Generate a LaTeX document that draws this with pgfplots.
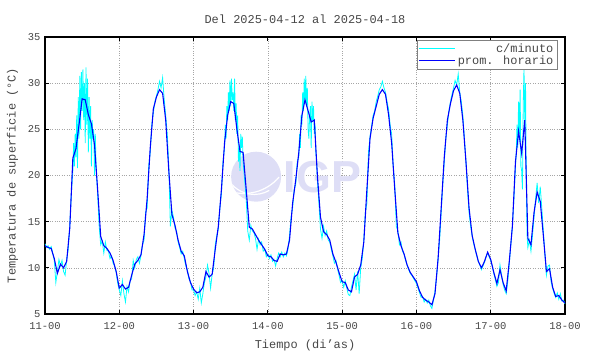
\documentclass[border=0pt]{standalone}
\usepackage{fontspec}
\setmainfont{Liberation Mono}
\newfontfamily\wmfont{Liberation Sans}
\usepackage{pgfplots}
\pgfplotsset{compat=1.18}
\usepackage{pgfplotstable}
\definecolor{cyanline}{RGB}{0,255,255}
\definecolor{blueline}{RGB}{0,0,255}
\definecolor{wm}{RGB}{222,222,246}
\definecolor{txt}{RGB}{70,70,70}

\pgfplotstableread{
h v
0 12.4
1 12.2
2 12.1
3 11.0
4 9.4
5 10.4
6 10.0
7 10.7
8 14.3
9 21.9
10 22.9
11 25.5
12 28.3
13 28.2
14 26.6
15 25.6
16 23.3
17 18.5
18 13.4
19 12.4
20 12.1
21 11.6
22 10.8
23 9.6
24 7.8
25 8.2
26 7.7
27 7.9
28 9.2
29 10.4
30 10.8
31 11.4
32 13.6
33 17.5
34 23.0
35 27.2
36 28.5
37 29.3
38 28.9
39 26.0
40 20.5
41 15.8
42 14.6
43 13.0
44 11.8
45 11.3
46 9.6
47 8.4
48 7.7
49 7.3
50 7.4
51 7.9
52 9.6
53 9.0
54 9.3
55 12.0
56 14.5
57 18.5
58 23.5
59 26.5
60 28.0
61 27.8
62 25.0
63 22.6
64 22.5
65 18.5
66 14.4
67 14.2
68 13.6
69 13.0
70 12.5
71 12.0
72 11.3
73 11.2
74 10.8
75 10.7
76 11.5
77 11.4
78 11.5
79 13.0
80 17.0
81 19.5
82 22.5
83 26.5
84 28.2
85 27.0
86 25.8
87 26.0
88 20.0
89 15.5
90 13.9
91 13.6
92 13.0
93 11.5
94 10.6
95 9.5
96 8.5
97 8.4
98 7.6
99 7.4
100 9.0
101 9.3
102 10.3
103 12.8
104 18.5
105 24.0
106 26.2
107 27.5
108 28.8
109 29.3
110 28.8
111 26.6
112 23.5
113 18.5
114 13.8
115 12.4
116 11.5
117 10.3
118 9.5
119 9.0
120 8.5
121 7.5
122 6.8
123 6.5
124 6.3
125 6.0
126 7.2
127 11.0
128 16.5
129 22.0
130 26.0
131 27.8
132 29.2
133 29.8
134 28.9
135 26.0
136 21.5
137 16.5
138 13.5
139 12.0
140 10.7
141 10.0
142 10.7
143 11.7
144 10.9
145 9.5
146 8.3
147 9.8
148 8.4
149 7.5
150 10.7
151 14.5
152 21.5
153 24.8
154 22.4
155 26.0
156 13.2
157 12.5
158 16.0
159 18.2
160 17.2
161 13.5
162 9.6
163 9.9
164 7.9
165 6.9
166 7.0
167 6.5
168 6.2
}\hourly

\pgfplotstableread{
h v
0 12.6
0.5 12.2
1 12.4
1.5 12.0
2 12.3
2.5 11.6
3 10.8
3.5 8.4
4 9.6
4.5 10.9
5 10.2
5.5 10.8
6 9.6
6.5 9.2
7 10.9
7.5 12.0
8 14.5
8.5 18.0
9.0 20.5
9.25 23.5
9.5 21.0
9.75 24.5
10.0 22.0
10.25 26.5
10.5 20.8
10.75 28.5
11.0 24.0
11.25 30.8
11.5 25.0
11.75 31.2
12.0 27.0
12.25 31.5
12.5 26.0
12.75 30.0
13.0 23.5
13.25 31.7
13.5 25.5
13.75 30.5
14.0 22.5
14.25 28.5
14.5 24.0
14.75 27.5
15.0 21.0
15.25 26.0
15.5 24.0
15.75 25.0
16.0 20.0
16.25 24.5
16.5 21.0
17 18.0
17.5 14.5
18 12.5
18.5 12.9
19 11.6
19.5 12.8
20 11.9
20.5 11.8
21 11.0
21.5 11.3
22 10.5
22.5 10.2
23 9.5
23.5 8.3
24 7.6
24.5 7.0
25 8.6
25.5 7.2
26 6.3
26.5 8.0
27 7.4
27.5 8.6
28 8.8
28.5 10.8
29 10.0
29.5 10.9
30 11.2
30.5 10.5
31 11.3
31.5 12.5
32 13.0
32.5 16.0
33 16.5
33.5 21.0
34 22.5
34.5 25.5
35 26.8
35.5 28.0
36 28.6
36.5 29.3
37 30.2
37.5 29.5
38 30.6
38.5 28.3
39 26.5
39.5 24.5
40 21.0
40.5 14.5
41 16.2
41.5 15.5
42 14.3
42.5 14.0
43 12.8
43.5 12.2
44 11.5
44.5 11.8
45 11.0
45.5 10.2
46 9.8
46.5 8.8
47 8.5
47.5 7.6
48 7.6
48.5 7.0
49 7.4
49.5 6.6
50 7.8
50.5 6.2
51 7.2
51.5 8.4
52 9.0
52.5 10.3
53 9.4
53.5 7.8
54 9.3
54.5 10.0
55 12.5
55.5 13.5
56 14.2
56.5 16.5
57 18.0
57.5 21.5
58 23.0
58.25 25.5
58.5 24.0
58.75 27.5
59 26.0
59.25 29.0
59.5 27.0
59.75 30.3
60 27.5
60.25 30.5
60.5 28.2
60.75 29.0
61 27.0
61.25 30.5
61.5 26.0
61.75 27.8
62 24.5
62.25 26.5
62.5 21.5
62.75 23.0
63 20.5
63.25 24.5
63.5 23.0
63.75 24.2
64 21.5
64.5 19.5
65 17.5
65.5 14.0
66 13.0
66.5 14.6
67 14.0
67.5 13.8
68 13.2
68.5 12.0
69 13.1
69.5 12.5
70 12.8
70.5 11.8
71 12.0
71.5 11.2
72 11.5
72.5 11.0
73 11.4
73.5 10.7
74 10.9
74.5 10.2
75 11.0
75.5 11.6
76 11.2
76.5 11.7
77 11.2
77.5 11.6
78 11.3
78.5 12.0
79 13.5
79.5 15.5
80 16.5
80.5 18.5
81 19.0
81.5 21.5
82 22.0
82.25 24.5
82.5 23.0
82.75 26.5
83 25.5
83.25 29.0
83.5 27.0
83.75 30.5
84 28.0
84.25 30.8
84.5 27.5
84.75 29.5
85 25.0
85.25 24.0
85.5 26.5
85.75 27.5
86 23.0
86.25 28.0
86.5 26.0
86.75 27.5
87 24.5
87.25 25.5
87.5 22.5
87.75 21.5
88 19.5
88.5 17.0
89 14.2
89.5 13.2
90 14.5
90.5 13.5
91 14.0
91.5 13.0
92 12.8
92.5 12.0
93 11.3
93.5 10.5
94 10.8
94.5 9.9
95 9.2
95.5 8.4
96 8.6
96.5 7.9
97 8.6
97.5 7.8
98 7.1
98.5 7.0
99 7.9
99.5 8.6
100 9.3
100.5 7.6
101 9.6
101.5 7.2
102 10.0
102.5 11.0
103 13.0
103.5 16.0
104 17.0
104.5 22.5
105 24.2
105.5 25.3
106 26.5
106.5 27.0
107 28.0
107.5 28.6
108 29.3
108.5 29.6
109 30.2
109.5 29.5
110 29.0
110.5 28.0
111 27.2
111.5 25.5
112 24.5
112.5 21.0
113 19.0
113.5 14.5
114 14.0
114.5 12.5
115 12.8
115.5 11.8
116 11.5
116.5 10.8
117 10.3
117.5 9.8
118 9.4
118.5 9.2
119 8.9
119.5 8.6
120 8.3
120.5 7.8
121 7.3
121.5 6.8
122 6.9
122.5 6.3
123 6.6
123.5 6.2
124 6.5
124.5 5.9
125 5.6
125.5 6.5
126 7.5
126.5 9.0
127 11.0
127.5 13.0
128 16.0
128.5 19.0
129 21.5
129.5 24.0
130 25.5
130.5 27.0
131 28.0
131.5 28.8
132 29.5
132.5 30.3
133 29.8
133.5 31.0
134 29.0
134.5 28.0
135 26.5
135.5 24.0
136 21.5
136.5 18.5
137 16.0
137.5 14.5
138 13.5
138.5 12.6
139 12.0
139.5 11.3
140 10.7
140.5 10.3
141 9.8
141.5 10.2
142 10.6
142.5 11.2
143 11.6
143.5 11.2
144 10.8
144.5 10.2
145 9.4
145.5 8.7
146 8.0
146.5 8.4
147 10.3
147.5 9.2
148 8.2
148.5 7.6
149 7.2
149.5 8.5
150 10.5
150.5 12.5
151 14.5
151.5 17.5
152 21.0
152.25 22.5
152.5 25.5
152.75 23.0
153 28.0
153.25 24.5
153.5 29.3
153.75 21.0
154 20.5
154.25 18.5
154.5 27.5
154.75 31.6
155 26.0
155.25 30.0
155.5 19.0
155.75 13.5
156 12.2
156.5 13.0
157 11.8
157.5 13.5
158 15.5
158.5 17.5
159 19.2
159.5 17.0
160 18.8
160.5 16.5
161 14.0
161.5 11.5
162 9.2
162.5 10.2
163 10.3
163.5 8.5
164 7.8
164.5 7.2
165 6.8
165.5 7.3
166 6.6
166.5 7.2
167 6.4
167.5 6.5
168 6.1
}\minute

\begin{document}
\begin{tikzpicture}[x=1bp,y=1bp]
\path[use as bounding box] (-45bp,-40bp) rectangle (545bp,314bp);
\begin{axis}[
  at={(0,0)}, anchor=south west,
  scale only axis, width=520bp, height=277bp,
  xmin=0, xmax=168, ymin=5, ymax=35,
  xtick={0,24,...,168},
  xticklabels={11-00,12-00,13-00,14-00,15-00,16-00,17-00,18-00},
  ytick={5,10,...,35},
  tick align=inside,
  major tick length=4bp,
  tick style={black, line width=0.8pt},
  axis line style={black, line width=1.1pt},
  grid=major,
  grid style={gray!70, dotted, line width=0.5pt},
  /pgf/number format/assume math mode=true,
  tick label style={font=\fontsize{10.5}{12}\selectfont, text=txt},
  xticklabel style={yshift=-5bp},
  yticklabel style={xshift=-1bp},
  label style={font=\fontsize{12}{14}\selectfont, text=txt},
  title style={font=\fontsize{12}{14}\selectfont, text=txt, yshift=4bp},
  title={Del 2025-04-12 al 2025-04-18},
  xlabel={Tiempo (di'as)},
  ylabel={Temperatura de superficie (°C)},
  xlabel style={yshift=-3bp},
  ylabel style={yshift=3bp},
  legend cell align=right,
  legend style={at={(rel axis cs:0.985,0.99)}, anchor=north east,
    draw=gray, line width=0.6pt, font=\fontsize{12}{13}\selectfont,
    text=txt, inner sep=1.5bp, row sep=-2bp,
    /tikz/every even column/.append style={column sep=2bp}},
  legend image code/.code={\draw[#1] (0bp,0bp) -- (36bp,0bp);},
]
% watermark
\fill[wm] (axis cs:68.2,19.87) circle[radius=25bp];
\begin{scope}
\clip (axis cs:68.2,19.87) circle[radius=25bp];
\draw[white, line width=1.2bp] (axis cs:68.2,19.87) ++(-28bp,-14bp) arc[start angle=250, end angle=320, radius=46bp];
\draw[white, line width=1.2bp] (axis cs:68.2,19.87) ++(-30bp,2bp) arc[start angle=200, end angle=300, radius=30bp];
\draw[white, line width=1.2bp] (axis cs:68.2,19.87) ++(4bp,27bp) arc[start angle=100, end angle=20, radius=22bp];
\end{scope}
\node[text=wm, font=\wmfont\bfseries\fontsize{45}{45}\selectfont, inner sep=0pt] at (axis cs:89.6,19.8) {IGP};
\addplot[cyanline, line width=0.8pt] table[x=h,y=v] {\minute};
\addlegendentry{c/minuto}
\addplot[blueline, line width=1.1pt] table[x=h,y=v] {\hourly};
\addlegendentry{prom. horario}
\end{axis}
\end{tikzpicture}
\end{document}
